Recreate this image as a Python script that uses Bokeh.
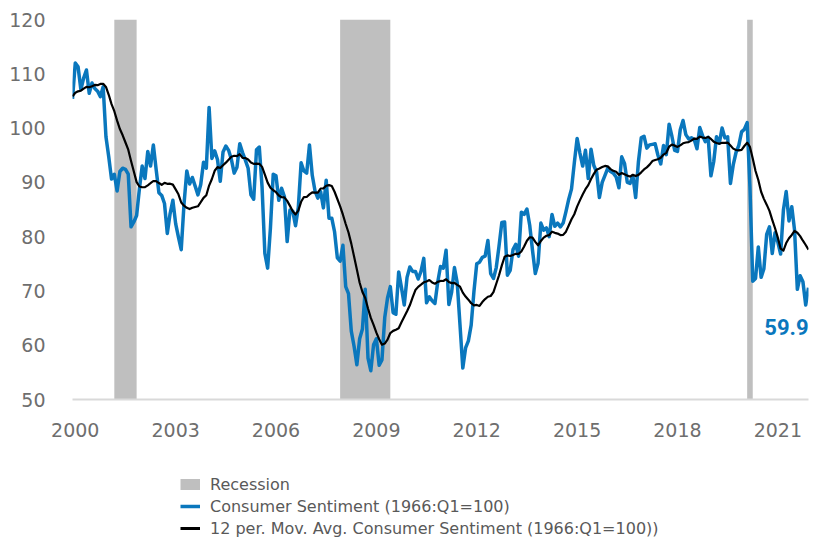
import pandas as pd
from bokeh.plotting import figure
from bokeh.layouts import column
from bokeh.models import FixedTicker, Legend, LegendItem, Label, Range1d, ColumnDataSource
from bokeh.embed import file_html
from bokeh.resources import INLINE

# ---- data ----
start_month = "1999-12"
sentiment = [
    105.4,
    112.0, 111.3, 107.1, 109.2, 110.7, 106.4, 108.3, 107.3, 106.8, 105.8, 107.6, 98.4,
    94.7, 90.6, 91.5, 88.4, 92.0, 92.6, 92.4, 91.5, 81.8, 82.7, 83.9, 88.8,
    93.0, 90.7, 95.7, 93.0, 96.9, 92.4, 88.1, 87.6, 86.1, 80.6, 84.2, 86.7,
    82.4, 79.9, 77.6, 86.0, 92.1, 89.7, 90.9, 89.3, 87.7, 89.6, 93.7, 92.6,
    103.8, 94.4, 95.8, 94.2, 90.2, 95.6, 96.7, 95.9, 94.2, 91.7, 92.8, 97.1,
    95.5, 94.1, 92.6, 87.7, 86.9, 96.0, 96.5, 89.1, 76.9, 74.2, 81.6, 91.5,
    91.2, 86.7, 88.9, 87.4, 79.1, 84.9, 84.7, 82.0, 85.4, 93.6, 92.1, 91.7,
    96.9, 91.3, 88.4, 87.1, 88.3, 85.3, 90.4, 83.4, 83.4, 80.9, 76.1, 75.5,
    78.4, 70.8, 69.5, 62.6, 59.8, 56.4, 61.2, 63.0, 70.3, 57.6, 55.3, 60.1,
    61.2, 56.3, 57.3, 65.1, 68.7, 70.8, 66.0, 65.7, 73.5, 70.6, 67.4, 72.5,
    74.4, 73.6, 73.6, 72.2, 73.6, 76.0, 67.8, 68.9, 68.2, 67.7, 71.6, 74.5,
    74.2, 77.5, 67.5, 69.8, 74.3, 71.5, 63.7, 55.8, 59.5, 60.8, 63.7, 69.9,
    75.0, 75.3, 76.2, 76.4, 79.3, 73.2, 72.3, 74.3, 78.3, 82.6, 82.7, 72.9,
    73.8, 77.6, 78.6, 76.4, 84.5, 84.1, 85.1, 82.1, 77.5, 73.2, 75.1, 82.5,
    81.2, 81.6, 80.0, 84.1, 81.9, 82.5, 81.8, 82.5, 84.6, 86.9, 88.8, 93.6,
    98.1, 95.4, 93.0, 95.9, 90.7, 96.1, 93.1, 91.9, 87.2, 90.0, 91.3, 92.6,
    92.0, 91.7, 91.0, 89.0, 94.7, 93.5, 90.0, 89.8, 91.2, 87.2, 93.8, 98.2,
    98.5, 96.3, 96.9, 97.0, 97.1, 95.0, 93.4, 96.8, 95.1, 100.7, 98.5, 95.9,
    95.7, 99.7, 101.4, 98.8, 98.0, 98.2, 97.9, 96.2, 100.1, 98.6, 97.5, 98.3,
    91.2, 93.8, 98.4, 97.2, 100.0, 98.2, 98.4, 89.8, 93.2, 95.5, 96.8, 99.3,
    99.8, 101.0, 89.1, 71.8, 72.3, 78.1, 72.5, 74.1, 80.4, 81.8, 76.9, 80.7,
    79.0, 76.8, 84.9, 88.3, 82.9, 85.5, 81.2, 70.3, 72.8, 71.7, 67.4, 70.6,
]
# months before the first plotted point (Jan-Nov 1999), used only for the 12-month average
history_1999 = [103.9, 108.1, 105.7, 104.6, 106.8, 107.3, 106.0, 104.5, 107.2, 103.2, 107.2]

rec_start = ["2001-03", "2007-12", "2020-02"]
rec_end = ["2001-11", "2009-06", "2020-04"]
tick_years = [2000, 2003, 2006, 2009, 2012, 2015, 2018, 2021]
y_ticks = [50, 60, 70, 80, 90, 100, 110, 120]
last_label = "59.9"
last_label_y = 63.4

labels = ["Recession", "Consumer Sentiment (1966:Q1=100)",
          "12 per. Mov. Avg. Consumer Sentiment (1966:Q1=100))"]

BLUE = "#0a77bd"
GRAY = "#bfbfbf"
TXT = "#6e6e6e"
NAN = float("nan")


def dec_year(period):
    return period.year + (period.month - 1) / 12.0


months = pd.period_range(start_month, periods=len(sentiment), freq="M")
xs = [dec_year(m) for m in months]
ma = pd.Series(history_1999 + sentiment).rolling(12).mean().iloc[len(history_1999):].tolist()
rs = [dec_year(pd.Period(s, freq="M")) for s in rec_start]
re_ = [dec_year(pd.Period(e, freq="M")) for e in rec_end]

src = ColumnDataSource(dict(x=xs, s=sentiment, ma=ma))

p = figure(width=815, height=439, output_backend="svg", toolbar_location=None,
           x_range=Range1d(xs[0], xs[-1]), y_range=Range1d(50, 120),
           min_border_left=72, min_border_right=7, min_border_top=19, min_border_bottom=0)
p.outline_line_color = None
p.xgrid.grid_line_color = None
p.ygrid.grid_line_color = None
p.background_fill_color = "white"

rec = p.quad(left=rs, right=re_, bottom=50, top=120, fill_color=GRAY, line_color=None)
l1 = p.line("x", "s", source=src, line_color=BLUE, line_width=3.5, line_join="round")
l2 = p.line("x", "ma", source=src, line_color="black", line_width=2.2, line_join="round")

xa = p.xaxis[0]
xa.ticker = FixedTicker(ticks=tick_years)
xa.major_label_overrides = {t: str(t) for t in tick_years}
xa.axis_line_color = "#d9d9d9"
xa.axis_line_width = 2
xa.major_tick_line_color = None
xa.minor_tick_line_color = None
xa.major_label_standoff = 17
xa.major_label_text_font = "DejaVu Sans"
xa.major_label_text_font_size = "19px"
xa.major_label_text_color = TXT

ya = p.yaxis[0]
ya.ticker = FixedTicker(ticks=y_ticks)
ya.axis_line_color = None
ya.major_tick_line_color = None
ya.minor_tick_line_color = None
ya.major_label_standoff = 21
ya.major_label_text_font = "DejaVu Sans"
ya.major_label_text_font_size = "19px"
ya.major_label_text_color = TXT

p.add_layout(Label(x=xs[-1], y=last_label_y, text=last_label, text_align="right",
                   text_baseline="middle", text_font="Roboto", text_font_style="bold",
                   text_font_size="22px", text_color=BLUE))

# ---- legend strip below the chart ----
lg = figure(width=815, height=99, output_backend="svg", toolbar_location=None,
            x_range=Range1d(0, 1), y_range=Range1d(0, 1),
            min_border=0, x_axis_location=None, y_axis_location=None)
lg.outline_line_color = None
lg.xgrid.grid_line_color = None
lg.ygrid.grid_line_color = None
# invisible proxies (NaN data) that only provide the legend swatches
rec_proxy = lg.line([NAN], [NAN], line_color=GRAY, line_width=11)
l1_proxy = lg.line([NAN], [NAN], line_color=BLUE, line_width=3.5)
l2_proxy = lg.line([NAN], [NAN], line_color="black", line_width=3)

legend = Legend(items=[LegendItem(label=labels[0], renderers=[rec_proxy]),
                       LegendItem(label=labels[1], renderers=[l1_proxy]),
                       LegendItem(label=labels[2], renderers=[l2_proxy])],
                location=(108, 0), orientation="vertical",
                glyph_width=20, glyph_height=20, label_height=20, label_standoff=10,
                spacing=2, padding=0, margin=0,
                border_line_color=None, background_fill_alpha=0,
                label_text_font="DejaVu Sans", label_text_font_size="16px",
                label_text_color="#595959")
lg.add_layout(legend, "center")

layout = column(p, lg, spacing=0)
open("out.html", "w").write(file_html(layout, INLINE))
